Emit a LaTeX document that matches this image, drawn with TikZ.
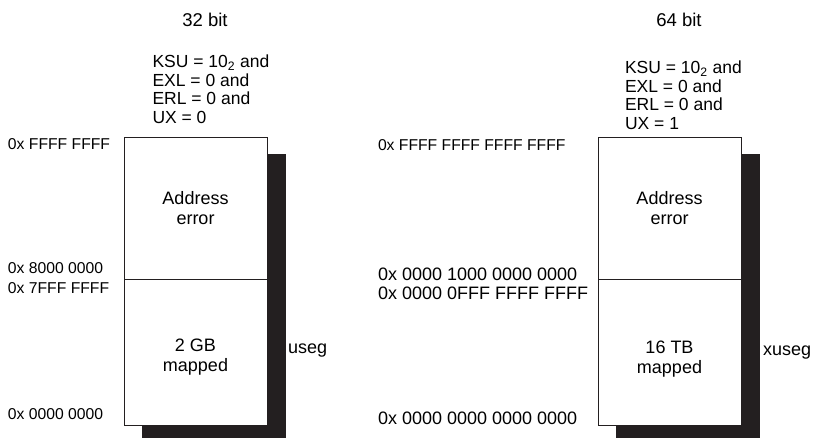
\documentclass[tikz,border=0pt]{standalone}
\usepackage{fontspec}
\setmainfont{Liberation Sans}
\usetikzlibrary{positioning}
\definecolor{segGray}{HTML}{231F20}

\begin{document}
\begin{tikzpicture}[
  x=1pt, y=-1pt,
  every node/.style={inner sep=0pt, outer sep=0pt},
  seg/.style={rectangle, draw=segGray, line width=0.9pt, fill=white,
              minimum width=143pt, anchor=north west},
  shade/.style={rectangle, fill=segGray, minimum width=144pt, anchor=north west},
  addr/.style={anchor=base west, font=\fontsize{15.7}{18}\selectfont},
  addrwide/.style={anchor=base west, font=\fontsize{18}{20}\selectfont},
  cond/.style={anchor=north west, align=left, font=\fontsize{17.5}{18.5}\selectfont},
  segtext/.style={align=center, font=\fontsize{18}{20}\selectfont},
  title/.style={anchor=base, font=\fontsize{18.5}{20}\selectfont}
]
  \useasboundingbox (0,0) rectangle (813,438);

  % 32 bit
  \node[title] (t32) at (205,27) {32 bit};
  \node[cond] (c32) at (152.5,55) {KSU = 10\textsubscript{2} and\\EXL = 0 and\\ERL = 0 and\\UX = 0};
  \node[shade, minimum height=285pt] (sh32) at (142,154) {};
  \node[seg, minimum height=142pt] (ae32) at (124,137) {};
  \node[seg, minimum height=146pt] (map32) at (124,279) {};
  \node[segtext] (ae32t) at (ae32.center) {Address\\error};
  \node[segtext] (map32t) at ([yshift=-5pt]map32.center) {2 GB\\mapped};
  \node[anchor=base west, font=\fontsize{18}{20}\selectfont] (useg) at (288,353) {useg};

  \node[addr] (a32top) at (8,150) {0x FFFF FFFF};
  \node[addr] (a32hi) at (8,273.3) {0x 8000 0000};
  \node[addr] (a32lo) at (8,293.3) {0x 7FFF FFFF};
  \node[addr] (a32bot) at (8,419) {0x 0000 0000};

  % 64 bit
  \node[title] (t64) at (679,27) {64 bit};
  \node[cond] (c64) at (625,61) {KSU = 10\textsubscript{2} and\\EXL = 0 and\\ERL = 0 and\\UX = 1};
  \node[shade, minimum height=285pt] (sh64) at (616,154) {};
  \node[seg, minimum height=142pt] (ae64) at (598,137) {};
  \node[seg, minimum height=146pt] (map64) at (598,279) {};
  \node[segtext] (ae64t) at (ae64.center) {Address\\error};
  \node[segtext] (map64t) at ([yshift=-7pt]map64.center) {16 TB\\mapped};
  \node[anchor=base west, font=\fontsize{18}{20}\selectfont] (xuseg) at (763,355) {xuseg};

  \node[addr] (a64top) at (378,151) {0x FFFF FFFF FFFF FFFF};
  \node[addrwide] (a64hi) at (378,280) {0x 0000 1000 0000 0000};
  \node[addrwide] (a64lo) at (378,299) {0x 0000 0FFF FFFF FFFF};
  \node[addrwide] (a64bot) at (378,424) {0x 0000 0000 0000 0000};
\end{tikzpicture}
\end{document}
